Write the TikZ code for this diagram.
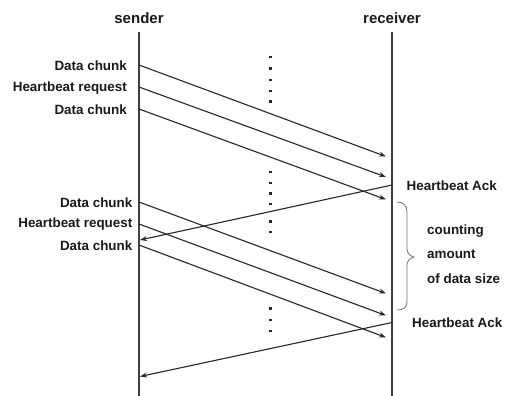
\documentclass[tikz,border=0pt]{standalone}
\usepackage{fontspec}
\setmainfont{Liberation Sans}
\usetikzlibrary{arrows.meta}
\begin{document}
\begin{tikzpicture}[x=1pt,y=-1pt,
  lbl/.style={font=\bfseries\fontsize{13.4}{16}\selectfont, inner sep=0pt, text=black!90},
  hdr/.style={font=\bfseries\fontsize{15}{18}\selectfont, inner sep=0pt, text=black!90},
  life/.style={line width=1.4pt, draw=black!75},
  msg/.style={line width=1.1pt, draw=black!85, -{Stealth[length=7pt,width=5pt]}},
  dotm/.style={fill=black!85, draw=none, minimum size=2.6pt, inner sep=0pt, rectangle},
  brc/.style={line width=0.8pt, draw=black!55}]
\useasboundingbox (0,0) rectangle (507,396);
% headers
\node[hdr] (sender) at (139,18) {sender};
\node[hdr] (receiver) at (392,18) {receiver};
% lifelines
\coordinate (stop) at (139,32);
\coordinate (sbot) at (139,396);
\coordinate (rtop) at (392,32);
\coordinate (rbot) at (392,396);
\draw[life] (stop) -- (sbot);
\draw[life] (rtop) -- (rbot);
% endpoints group 1
\coordinate (a1) at (139,65);  \coordinate (b1) at (386,156.5);
\coordinate (a2) at (139,87);  \coordinate (b2) at (386,177);
\coordinate (a3) at (139,109); \coordinate (b3) at (386,199.5);
% group 2
\coordinate (a4) at (139,202); \coordinate (b4) at (386,293.5);
\coordinate (a5) at (139,224); \coordinate (b5) at (386,315.5);
\coordinate (a6) at (139,245); \coordinate (b6) at (386,337.5);
% acks
\coordinate (k1) at (392,185);   \coordinate (s1) at (140,240);
\coordinate (k2) at (392,322.5); \coordinate (s2) at (140,376.5);
% labels
\node[lbl, anchor=east] (l1) at (127,66) {Data chunk};
\node[lbl, anchor=east] (l2) at (127,88) {Heartbeat request};
\node[lbl, anchor=east] (l3) at (127,109.5) {Data chunk};
\node[lbl, anchor=east] (l4) at (132.5,202.5) {Data chunk};
\node[lbl, anchor=east] (l5) at (132.5,224.5) {Heartbeat request};
\node[lbl, anchor=east] (l6) at (132.5,245.5) {Data chunk};
\node[lbl, anchor=west] (h1) at (406.5,186) {Heartbeat Ack};
\node[lbl, anchor=west] (h2) at (412,323) {Heartbeat Ack};
\node[lbl, anchor=west] (c1) at (427,231.5) {counting};
\node[lbl, anchor=west] (c2) at (427,254.5) {amount};
\node[lbl, anchor=west] (c3) at (427,278.5) {of data size};
% messages
\draw[msg] (a1) -- (b1);
\draw[msg] (a2) -- (b2);
\draw[msg] (a3) -- (b3);
\draw[msg] (a4) -- (b4);
\draw[msg] (a5) -- (b5);
\draw[msg] (a6) -- (b6);
\draw[msg] (k1) -- (s1);
\draw[msg] (k2) -- (s2);
% dots
\foreach \y [count=\i] in {57,68.5,80,91,101.5,172,183,193.5,204,221.5,232,308.5,320,331}
  \node[dotm] (d\i) at (270.5,\y) {};
% brace
\draw[brc] (397,202) .. controls (403,202) and (407,205) .. (407,212)
  -- (407,249) .. controls (407,253) and (410,256) .. (414,257)
  .. controls (410,258) and (407,261) .. (407,265)
  -- (407,301) .. controls (407,308) and (403,310) .. (397,310);
\end{tikzpicture}
\end{document}
